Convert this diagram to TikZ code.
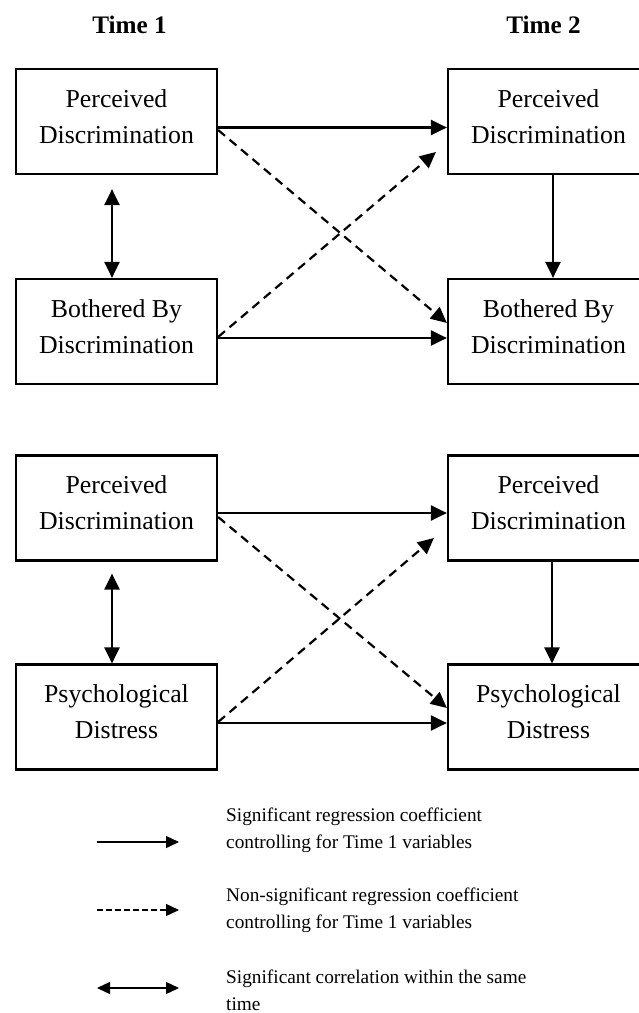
\documentclass[tikz,border=0pt]{standalone}
\usepackage{fontspec}
\setmainfont{Liberation Serif}
\usetikzlibrary{arrows.meta, positioning, calc}
\tikzset{
	varbox/.style   ={rectangle, draw=black, line width=2.2pt, minimum width=201pt, minimum height=105pt, inner sep=0pt, align=center, text depth=10.5pt, font=\fontsize{25.8pt}{36pt}\selectfont},
	timelabel/.style={anchor=base, inner sep=0pt, font=\fontsize{25.2pt}{30pt}\selectfont\bfseries},
	regarrow/.style ={-{Triangle[length=16pt, width=15pt]}, line width=2.2pt},
	nsarrow/.style  ={regarrow, dash pattern=on 9pt off 6pt},
	corrarrow/.style={{Triangle[length=16pt, width=15pt]}-{Triangle[length=16pt, width=15pt]}, line width=2.2pt},
	% legend styles
	keyarrow/.style ={-{Triangle[length=13pt, width=12pt]}, line width=1.4pt},
	keytext/.style  ={anchor=west, align=left, inner sep=0pt, font=\fontsize{19.3pt}{27pt}\selectfont},
}
\begin{document}
\begin{tikzpicture}[x=1pt, y=-1pt]
	\useasboundingbox (0,0) rectangle (639,1013);
	\clip (0,0) rectangle (639,1013);
	% column headings
	\node[timelabel] (t1) at (129.5,33) {Time 1};
	\node[timelabel] (t2) at (543.5,33) {Time 2};
	% discrimination panel
	\node[varbox] (pdA1) at (116.5,121.5) {Perceived\\Discrimination};
	\node[varbox] (pdA2) at (548.5,121.5) {Perceived\\Discrimination};
	\node[varbox] (bbA1) at (116.5,331.5) {Bothered By\\Discrimination};
	\node[varbox] (bbA2) at (548.5,331.5) {Bothered By\\Discrimination};
	\draw[regarrow] ($(pdA1.east)+(0,6)$) -- ($(pdA2.west)+(0,6)$);
	\draw[regarrow] ($(bbA1.east)+(0,6.5)$) -- ($(bbA2.west)+(0,6.5)$);
	\draw[nsarrow] ($(pdA1.east)+(0,8.5)$) -- ($(bbA2.west)+(0,-8.5)$);
	\draw[nsarrow] ($(bbA1.east)+(0,5.5)$) -- ($(pdA2.west)+(-11,30.5)$);
	\draw[regarrow] ($(pdA2.south)+(4.5,0)$) -- ($(bbA2.north)+(4.5,0)$);
	\draw[corrarrow] ($(pdA1.south)+(-4.5,14)$) -- ($(bbA1.north)+(-4.5,0)$);
	% distress panel
	\node[varbox] (pdB1) at (116.5,508) {Perceived\\Discrimination};
	\node[varbox] (pdB2) at (548.5,508) {Perceived\\Discrimination};
	\node[varbox] (psB1) at (116.5,717) {Psychological\\Distress};
	\node[varbox] (psB2) at (548.5,717) {Psychological\\Distress};
	\draw[regarrow] ($(pdB1.east)+(0,5)$) -- ($(pdB2.west)+(0,5)$);
	\draw[regarrow] ($(psB1.east)+(0,6)$) -- ($(psB2.west)+(0,6)$);
	\draw[nsarrow] ($(pdB1.east)+(0,9)$) -- ($(psB2.west)+(0,-9)$);
	\draw[nsarrow] ($(psB1.east)+(0,5)$) -- ($(pdB2.west)+(-13,30)$);
	\draw[regarrow] ($(pdB2.south)+(3.5,0)$) -- ($(psB2.north)+(3.5,0)$);
	\draw[corrarrow] ($(pdB1.south)+(-4.5,12)$) -- ($(psB1.north)+(-4.5,0)$);
	% legend
	\coordinate (k1s) at (97,842);  \coordinate (k1e) at (179,842);
	\coordinate (k2s) at (97,910);  \coordinate (k2e) at (179,910);
	\coordinate (k3s) at (97,988);  \coordinate (k3e) at (179,988);
	\draw[keyarrow] (k1s) -- (k1e);
	\draw[keyarrow, dash pattern=on 6pt off 3pt] (k2s) -- (k2e);
	\draw[keyarrow, {Triangle[length=13pt, width=12pt]}-{Triangle[length=13pt, width=12pt]}] (k3s) -- (k3e);
	\node[keytext] (key1) at (226,830) {Significant regression coefficient\\controlling for Time 1 variables};
	\node[keytext] (key2) at (226,910) {Non-significant regression coefficient\\controlling for Time 1 variables};
	\node[keytext] (key3) at (226,990) {Significant correlation within the same\\time};
\end{tikzpicture}
\end{document}
